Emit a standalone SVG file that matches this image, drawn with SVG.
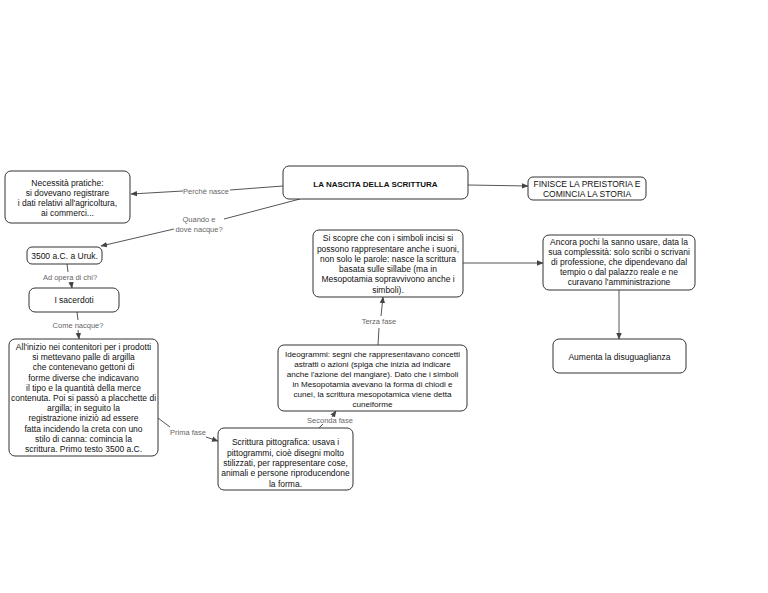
<svg xmlns="http://www.w3.org/2000/svg" width="768" height="593" viewBox="0 0 768 593">
<defs>
<marker id="arr" markerUnits="userSpaceOnUse" markerWidth="7" markerHeight="7" refX="6" refY="3.5" orient="auto">
<path d="M0,0.8 L6.5,3.5 L0,6.2 Z" fill="#444"/>
</marker>
<style>
.box{fill:#fff;stroke:#333;stroke-width:1}
.t{font-family:"Liberation Sans",Arial,sans-serif;font-size:8.5px;fill:#111;text-anchor:middle}
.s{font-size:8.1px}
.b{font-weight:bold;font-size:8px}
.lbl{font-family:"Liberation Sans",Arial,sans-serif;font-size:7.5px;fill:#666;text-anchor:middle}
.c{fill:none;stroke:#555;stroke-width:1}
</style>
</defs>
<rect width="768" height="593" fill="#fff"/>
<g id="connectors">
<path class="c" d="M283,186 L230,190"/>
<path class="c" d="M183,191 L131,194" marker-end="url(#arr)"/>
<path class="c" d="M300,199 L224,219"/>
<path class="c" d="M174,229 L101,246" marker-end="url(#arr)"/>
<path class="c" d="M67,264 L68,272"/>
<path class="c" d="M71,282 L72,288" marker-end="url(#arr)"/>
<path class="c" d="M77,312 L78,320"/>
<path class="c" d="M78,330 L79,339" marker-end="url(#arr)"/>
<path class="c" d="M158,418 L170,427"/>
<path class="c" d="M206,437 L218,441" marker-end="url(#arr)"/>
<path class="c" d="M319,428 L323,424"/>
<path class="c" d="M332,417 L336,411" marker-end="url(#arr)"/>
<path class="c" d="M378,345 L379,328"/>
<path class="c" d="M381,316 L383,297" marker-end="url(#arr)"/>
<path class="c" d="M463,263 L543,263" marker-end="url(#arr)"/>
<path class="c" d="M468,185 L528,186" marker-end="url(#arr)"/>
<path class="c" d="M619,290 L619,339" marker-end="url(#arr)"/>
<text class="lbl" x="206" y="193.5">Perchè nasce</text>
<text class="lbl" x="199" y="221.5">Quando e</text>
<text class="lbl" x="199" y="231.5">dove nacque?</text>
<text class="lbl" x="70" y="279.5">Ad opera di chi?</text>
<text class="lbl" x="78" y="327.5">Come nacque?</text>
<text class="lbl" x="188" y="434.5">Prima fase</text>
<text class="lbl" x="330" y="422.5">Seconda fase</text>
<text class="lbl" x="379" y="323.5">Terza fase</text>
</g>
<g id="title">
<rect class="box" x="283" y="166" width="185" height="33" rx="6"/>
<text class="t b" x="375.5" y="187">LA NASCITA DELLA SCRITTURA</text>
</g>
<g id="necessita">
<rect class="box" x="5" y="171" width="125" height="52" rx="6"/>
<text class="t" x="67.5" y="186">Necessità pratiche:</text>
<text class="t" x="67.5" y="196">si dovevano registrare</text>
<text class="t" x="67.5" y="206">i dati relativi all'agricoltura,</text>
<text class="t" x="67.5" y="216">ai commerci...</text>
</g>
<g id="finisce">
<rect class="box" x="528" y="177" width="118" height="23" rx="5"/>
<text class="t" x="587" y="187">FINISCE LA PREISTORIA E</text>
<text class="t" x="587" y="196.5">COMINCIA LA STORIA</text>
</g>
<g id="uruk">
<rect class="box" x="27" y="247" width="75" height="17" rx="5"/>
<text class="t" x="64.5" y="259">3500 a.C. a Uruk.</text>
</g>
<g id="sacerdoti">
<rect class="box" x="29" y="288" width="90" height="24" rx="6"/>
<text class="t" x="74" y="303">I sacerdoti</text>
</g>
<g id="inizio">
<rect class="box" x="9" y="339" width="149" height="117" rx="6"/>
<text class="t" x="83.5" y="350">All'inizio nei contenitori per i prodotti</text>
<text class="t" x="83.5" y="360.2">si mettevano palle di argilla</text>
<text class="t" x="83.5" y="370.4">che contenevano gettoni di</text>
<text class="t" x="83.5" y="380.6">forme diverse che indicavano</text>
<text class="t" x="83.5" y="390.8">il tipo e la quantità della merce</text>
<text class="t" x="83.5" y="401">contenuta. Poi si passò a placchette di</text>
<text class="t" x="83.5" y="411.2">argilla; in seguito la</text>
<text class="t" x="83.5" y="421.4">registrazione iniziò ad essere</text>
<text class="t" x="83.5" y="431.6">fatta incidendo la creta con uno</text>
<text class="t" x="83.5" y="441.8">stilo di canna: comincia la</text>
<text class="t" x="83.5" y="452">scrittura. Primo testo 3500 a.C.</text>
</g>
<g id="pittografica">
<rect class="box" x="218" y="428" width="135" height="62" rx="6"/>
<text class="t" x="285.5" y="445">Scrittura pittografica: usava i</text>
<text class="t" x="285.5" y="455.5">pittogrammi, cioè disegni molto</text>
<text class="t" x="285.5" y="466">stilizzati, per rappresentare cose,</text>
<text class="t" x="285.5" y="476">animali e persone riproducendone</text>
<text class="t" x="285.5" y="486.5">la forma.</text>
</g>
<g id="ideogrammi">
<rect class="box" x="278" y="345" width="189" height="66" rx="6"/>
<text class="t s" x="372.5" y="357">Ideogrammi: segni che rappresentavano concetti</text>
<text class="t s" x="372.5" y="367">astratti o azioni (spiga che inizia ad indicare</text>
<text class="t s" x="372.5" y="377">anche l'azione del mangiare). Dato che i simboli</text>
<text class="t s" x="372.5" y="387">in Mesopotamia avevano la forma di chiodi e</text>
<text class="t s" x="372.5" y="396.5">cunei, la scrittura mesopotamica viene detta</text>
<text class="t s" x="372.5" y="406.5">cuneiforme</text>
</g>
<g id="sillabe">
<rect class="box" x="313" y="230" width="150" height="67" rx="6"/>
<text class="t" x="388" y="241">Si scopre che con i simboli incisi si</text>
<text class="t" x="388" y="252">possono rappresentare anche i suoni,</text>
<text class="t" x="388" y="262">non solo le parole: nasce la scrittura</text>
<text class="t" x="388" y="272">basata sulle sillabe (ma in</text>
<text class="t" x="388" y="282">Mesopotamia sopravvivono anche i</text>
<text class="t" x="388" y="293">simboli).</text>
</g>
<g id="ancora">
<rect class="box" x="543" y="235" width="152" height="55" rx="6"/>
<text class="t" x="619" y="245">Ancora pochi la sanno usare, data la</text>
<text class="t" x="619" y="255">sua complessità: solo scribi o scrivani</text>
<text class="t" x="619" y="265">di professione, che dipendevano dal</text>
<text class="t" x="619" y="275">tempio o dal palazzo reale e ne</text>
<text class="t" x="619" y="284.5">curavano l'amministrazione</text>
</g>
<g id="aumenta">
<rect class="box" x="553" y="339" width="133" height="34" rx="6"/>
<text class="t" x="619.5" y="360">Aumenta la disuguaglianza</text>
</g>
</svg>
